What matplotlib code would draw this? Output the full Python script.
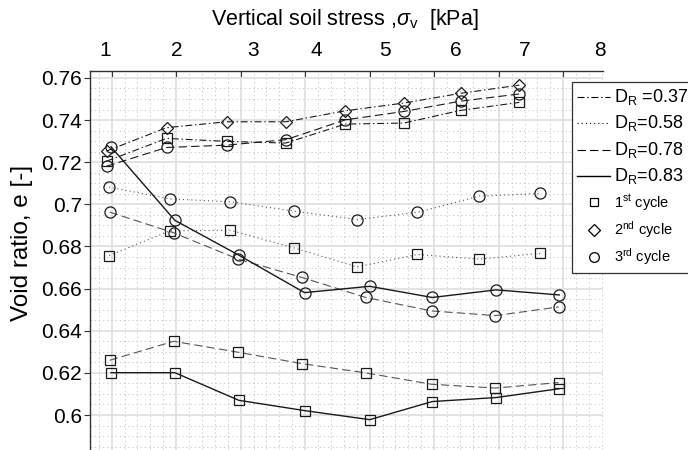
import numpy as np
import matplotlib
matplotlib.use('Agg')
from matplotlib import pyplot as plt
from matplotlib.lines import Line2D
from matplotlib.ticker import MultipleLocator

plt.rcParams['font.family'] = ['Liberation Sans', 'DejaVu Sans']
plt.rcParams['mathtext.fontset'] = 'custom'
plt.rcParams['mathtext.rm'] = 'Liberation Sans'
plt.rcParams['mathtext.it'] = 'Liberation Sans:italic'
plt.rcParams['lines.scale_dashes'] = False

# measured stress positions (in gridline units) and void ratios per relative density
x_037 = [0.92, 1.85, 2.78, 3.70, 4.62, 5.53, 6.41, 7.32]
e_037_c1 = [0.7205, 0.7313, 0.7299, 0.7291, 0.7381, 0.7386, 0.7446, 0.7484]
e_037_c2 = [0.7253, 0.7364, 0.7392, 0.7392, 0.7444, 0.7481, 0.7527, 0.7566]
e_037_c3 = [0.7181, 0.7270, 0.7281, 0.7307, 0.7401, 0.7441, 0.7490, 0.7524]

x_058 = [0.96, 1.90, 2.84, 3.83, 4.80, 5.74, 6.70, 7.64]
e_058_c1 = [0.6757, 0.6874, 0.6877, 0.6793, 0.6703, 0.6762, 0.6740, 0.6767]
e_058_c3 = [0.7082, 0.7026, 0.7012, 0.6968, 0.6928, 0.6962, 0.7039, 0.7052]

x_078 = [0.97, 1.96, 2.96, 3.95, 4.94, 5.96, 6.95, 7.93]
e_078_c1 = [0.6260, 0.6350, 0.6298, 0.6244, 0.6200, 0.6146, 0.6128, 0.6154]
e_078_c3 = [0.6963, 0.6865, 0.6740, 0.6653, 0.6558, 0.6494, 0.6472, 0.6513]

x_083 = [0.99, 1.98, 2.97, 3.99, 5.00, 5.97, 6.96, 7.94]
e_083_c1 = [0.6201, 0.6201, 0.6070, 0.6021, 0.5978, 0.6064, 0.6083, 0.6125]
e_083_c3 = [0.7273, 0.6924, 0.6759, 0.6581, 0.6611, 0.6558, 0.6594, 0.6570]

grid_x = [1, 2, 3, 4, 5, 6, 7, 8]
stress_labels = ['1', '2', '3', '4', '5', '6', '7', '8']
stress_label_pos = [0.90, 2.01, 3.19, 4.17, 5.24, 6.34, 7.41, 8.57]
e_ticks = [0.60, 0.62, 0.64, 0.66, 0.68, 0.70, 0.72, 0.74, 0.76]
e_labels = ['0.6', '0.62', '0.64', '0.66', '0.68', '0.7', '0.72', '0.74', '0.76']

dashdot = (0, (5, 2, 1, 2))
dashed = (0, (6, 3))
dotted = (0, (0.8, 2.2))
dark = '#1a1a1a'
grey = '#555555'

fig = plt.figure(figsize=(6.88, 4.5), dpi=100)
ax = fig.add_axes([89.5/688, 0, (603-89.5)/688, (450-71)/450])

mk = dict(mfc='none', mew=0.9)
sq = dict(marker='s', ms=6.5, **mk)
di = dict(marker='D', ms=6, **mk)
ci = dict(marker='o', ms=8, **mk)

ax.plot(x_037, e_037_c1, ls=dashdot, lw=0.8, color=dark, mec=dark, **sq)
ax.plot(x_037, e_037_c2, ls=dashdot, lw=0.8, color=dark, mec=dark, **di)
ax.plot(x_037, e_037_c3, ls=dashed, lw=0.8, color=dark, mec=dark, **ci)
ax.plot(x_058, e_058_c1, ls=dotted, lw=0.8, color=grey, mec=dark, **sq)
ax.plot(x_058, e_058_c3, ls=dotted, lw=0.8, color=grey, mec=dark, **ci)
ax.plot(x_078, e_078_c1, ls=dashed, lw=0.8, color=grey, mec=dark, **sq)
ax.plot(x_078, e_078_c3, ls=dashed, lw=0.8, color=grey, mec=dark, **ci)
ax.plot(x_083, e_083_c1, ls='-', lw=1.0, color=dark, mec=dark, **sq)
ax.plot(x_083, e_083_c3, ls='-', lw=1.0, color=dark, mec=dark, **ci)

ax.set_xlim(0.656, 8.617)
ax.set_ylim(0.5834, 0.7633)
ax.set_xticks(grid_x)
ax.set_yticks(e_ticks, e_labels)
ax.xaxis.set_minor_locator(MultipleLocator(0.2))
ax.yaxis.set_minor_locator(MultipleLocator(0.005))
ax.grid(which='major', color='#e0e0e0', lw=1.3)
ax.grid(which='minor', color='#cccccc', lw=0.7, ls=(0, (1, 2)))
ax.set_axisbelow(True)

ax.xaxis.tick_top()
ax.tick_params(axis='x', which='major', direction='in', length=4, width=0.8,
               color='#333333', labeltop=False)
ax.tick_params(axis='both', which='minor', length=0)
ax.tick_params(axis='y', which='major', direction='out', length=4.5, width=0.8,
               color='#333333', labelsize=15, pad=1)
for s in ['top', 'left']:
    ax.spines[s].set_color('#333333')
    ax.spines[s].set_linewidth(1.0)
ax.spines['right'].set_visible(False)
ax.spines['bottom'].set_visible(False)

sec = ax.secondary_xaxis('top')
sec.set_xticks(stress_label_pos, stress_labels)
sec.tick_params(length=0, pad=8, labelsize=15)
sec.spines['top'].set_visible(False)

fig.text(0.501, 1 - 20/450, r'Vertical soil stress ,$\sigma_{\rm v}$  [kPa]',
         ha='center', va='center', fontsize=15.5)
fig.text(22/688, 1 - 243/450, 'Void ratio, e [-]', rotation=90,
         ha='center', va='center', fontsize=17.5)

handles = [
    Line2D([], [], color='k', lw=0.8, ls=dashdot, label=r'D$_{\rm R}$ =0.37'),
    Line2D([], [], color='k', lw=0.8, ls=dotted, label=r'D$_{\rm R}$=0.58'),
    Line2D([], [], color='k', lw=0.8, ls=dashed, label=r'D$_{\rm R}$=0.78'),
    Line2D([], [], color='k', lw=1.0, ls='-', label=r'D$_{\rm R}$=0.83'),
    Line2D([], [], color='k', ls='none', marker='s', ms=6, mfc='none', mew=0.9,
           label=r'1$^{\rm st}$ cycle'),
    Line2D([], [], color='k', ls='none', marker='D', ms=6, mfc='none', mew=0.9,
           label=r'2$^{\rm nd}$ cycle'),
    Line2D([], [], color='k', ls='none', marker='o', ms=7, mfc='none', mew=0.9,
           label=r'3$^{\rm rd}$ cycle'),
]
leg = fig.legend(handles=handles, loc='upper left', bbox_to_anchor=(571.5/688, 1 - 81.5/450),
                 bbox_transform=fig.transFigure, borderaxespad=0, fontsize=10,
                 handlelength=2.4, handletextpad=0.25, labelspacing=0.45,
                 borderpad=0.4, fancybox=False, framealpha=1, numpoints=1)
for t in leg.get_texts()[:4]:
    t.set_fontsize(13)
for t in leg.get_texts()[4:]:
    t.set_fontsize(10.5)
leg.get_frame().set_edgecolor('#333333')
leg.get_frame().set_linewidth(0.9)

fig.savefig('out.png', dpi=100)
